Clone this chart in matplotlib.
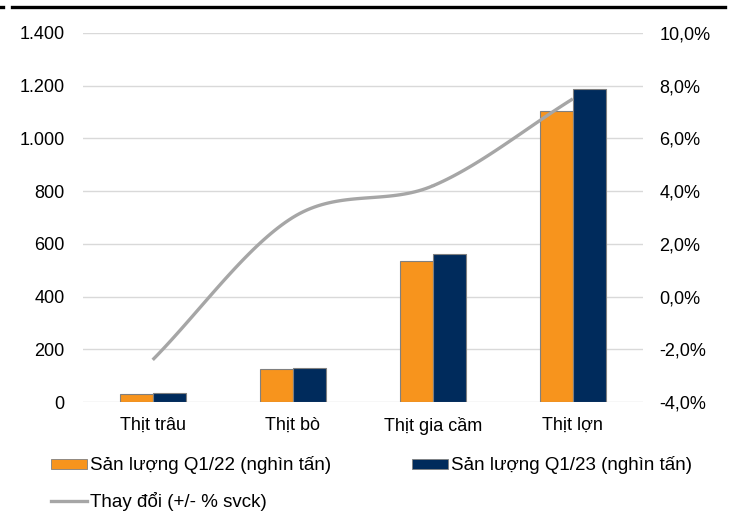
import numpy as np
import matplotlib.pyplot as plt
from matplotlib.patches import Patch
from matplotlib.lines import Line2D
from matplotlib.ticker import FuncFormatter

plt.rcParams['font.family'] = ['Liberation Sans', 'DejaVu Sans']

# San luong thit (nghin tan) va thay doi so voi cung ky
categories = ['Thịt trâu', 'Thịt bò', 'Thịt gia cầm', 'Thịt lợn']
q1_22 = [32, 124, 535, 1104]
q1_23 = [33, 130, 563, 1189]
change = [-2.4, 3.0, 4.2, 7.5]  # %

c_orange = '#f7941d'
c_navy = '#002b5c'
c_gray = '#a6a6a6'


def smooth(xs, ys, n=40):
    # Catmull-Rom spline through the points (Excel-style smoothed line)
    xs = np.asarray(xs, float)
    ys = np.asarray(ys, float)
    px = np.concatenate([[2 * xs[0] - xs[1]], xs, [2 * xs[-1] - xs[-2]]])
    py = np.concatenate([[2 * ys[0] - ys[1]], ys, [2 * ys[-1] - ys[-2]]])
    outx, outy = [], []
    t = np.linspace(0, 1, n)
    for i in range(1, len(px) - 2):
        for p, out in ((px, outx), (py, outy)):
            p0, p1, p2, p3 = p[i - 1], p[i], p[i + 1], p[i + 2]
            out.extend(0.5 * (2 * p1 + (-p0 + p2) * t
                              + (2 * p0 - 5 * p1 + 4 * p2 - p3) * t ** 2
                              + (-p0 + 3 * p1 - 3 * p2 + p3) * t ** 3))
    return np.array(outx), np.array(outy)


fig = plt.figure(figsize=(7.33, 5.16), dpi=100)
ax = fig.add_axes([0.1128, 0.2209, 0.7642, 0.7152])
ax2 = ax.twinx()

x = np.arange(len(categories))
w = 0.236
ax.bar(x - w / 2, q1_22, w, color=c_orange, edgecolor='#808080', linewidth=0.8, zorder=3)
ax.bar(x + w / 2, q1_23, w, color=c_navy, edgecolor='#808080', linewidth=0.8, zorder=3)

ax.set_xlim(-0.5, len(categories) - 0.5)
ax.set_ylim(0, 1400)
ax.set_yticks(np.arange(0, 1401, 200))
ax.yaxis.set_major_formatter(FuncFormatter(lambda v, p: f'{int(v):,}'.replace(',', '.')))
ax.grid(axis='y', color='#d9d9d9', linewidth=1, zorder=0)
ax.set_axisbelow(True)
ax.set_xticks(x)
ax.set_xticklabels(categories)

sx, sy = smooth(x, change)
ax2.plot(sx, sy, color=c_gray, linewidth=2.4, solid_capstyle='butt', zorder=4)
ax2.set_ylim(-4, 10)
ax2.set_yticks(np.arange(-4, 10.1, 2))
ax2.yaxis.set_major_formatter(FuncFormatter(lambda v, p: f'{v:.1f}%'.replace('.', ',')))

for a in (ax, ax2):
    for s in a.spines.values():
        s.set_visible(False)
    a.tick_params(length=0, labelsize=13, colors='#000000')
ax.tick_params(axis='y', pad=13)
ax.tick_params(axis='x', pad=11)
ax2.tick_params(axis='y', pad=12)

# thick rule across the top
fig.add_artist(Line2D([12 / 733, 725 / 733], [0.9874, 0.9874], color='black', linewidth=2.4,
                      transform=fig.transFigure))
fig.add_artist(Line2D([0.0, 3 / 733], [0.9874, 0.9874], color='black', linewidth=2.4,
                      transform=fig.transFigure))

handles = [
    Patch(facecolor=c_orange, edgecolor='#808080', linewidth=0.6, label='Sản lượng Q1/22 (nghìn tấn)'),
    Line2D([], [], color=c_gray, linewidth=2.4, label='Thay đổi (+/- % svck)'),
    Patch(facecolor=c_navy, edgecolor='#808080', linewidth=0.6, label='Sản lượng Q1/23 (nghìn tấn)'),
]
fig.legend(handles=handles, ncol=2, loc='upper left', bbox_to_anchor=(42 / 733, 0.134),
           frameon=False, fontsize=13.5, handlelength=1.92, handleheight=0.45,
           handletextpad=0.16, columnspacing=4.3, labelspacing=0.93, borderpad=0)

fig.savefig('out.png', dpi=100)
